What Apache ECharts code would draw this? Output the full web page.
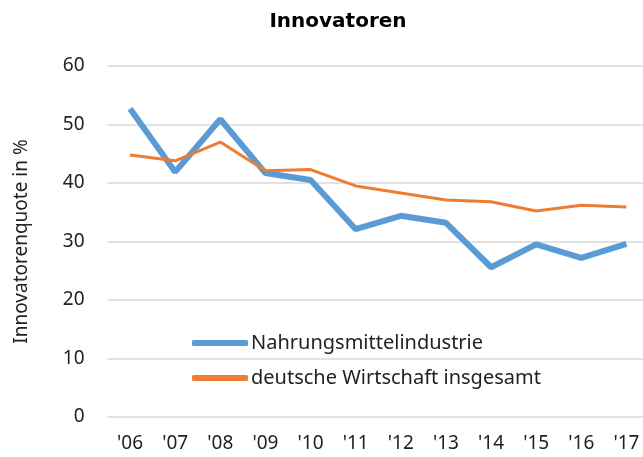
<!DOCTYPE html>
<html>
<head>
<meta charset="utf-8">
<script src="https://cdn.jsdelivr.net/npm/echarts@6/dist/echarts.min.js"></script>
<style>
  html, body { margin: 0; padding: 0; background: #fff; overflow: hidden; }
  #chart { width: 649px; height: 457px; }
</style>
</head>
<body>
<div id="chart"></div>
<script>
// Daten
const years = ["'06", "'07", "'08", "'09", "'10", "'11", "'12", "'13", "'14", "'15", "'16", "'17"];
const nahrung = [52.7, 41.9, 50.9, 41.7, 40.5, 32.1, 34.4, 33.2, 25.6, 29.5, 27.2, 29.6];
const wirtschaft = [44.8, 43.8, 47.0, 42.1, 42.3, 39.5, 38.3, 37.1, 36.8, 35.2, 36.2, 35.9];
const yTicks = [0, 10, 20, 30, 40, 50, 60];

const font = 'Noto Sans, Liberation Sans, sans-serif';
const chart = echarts.init(document.getElementById('chart'));

const option = {
    animation: false,
    title: {
        text: 'Innovatoren',
        left: 333,
        top: 7,
        textAlign: 'center',
        textStyle: { fontFamily: 'DejaVu Sans', fontWeight: 'bold', fontSize: 20, color: '#000' }
    },
    legend: {
        orient: 'vertical',
        left: 187,
        top: 328,
        itemWidth: 56,
        itemHeight: 6,
        itemGap: 15,
        icon: 'roundRect',
        textStyle: { fontFamily: font, fontSize: 20, color: '#222', padding: [0, 0, 0, -2] },
        data: ['Nahrungsmittelindustrie', 'deutsche Wirtschaft insgesamt']
    },
    // rechter Rand liegt etwas ausserhalb des Fensters
    grid: { left: 107.5, right: 0, top: 66, bottom: 40 },
    xAxis: {
        type: 'category',
        data: years,
        boundaryGap: true,
        axisLine: { show: false },
        axisTick: { show: false },
        axisLabel: { fontFamily: font, fontSize: 19, color: '#222', margin: 17 }
    },
    yAxis: {
        type: 'value',
        min: yTicks[0],
        max: yTicks[yTicks.length - 1],
        interval: 10,
        name: 'Innovatorenquote in %',
        nameLocation: 'middle',
        nameGap: 76,
        nameTextStyle: { fontFamily: font, fontSize: 19, color: '#222' },
        axisLine: { show: false },
        axisTick: { show: false },
        axisLabel: { fontFamily: font, fontSize: 19, color: '#222', margin: 23 },
        splitLine: { lineStyle: { color: '#d9d9d9', width: 1.5 } }
    },
    series: [
        {
            name: 'Nahrungsmittelindustrie',
            type: 'line',
            data: nahrung,
            symbol: 'none',
            color: '#5b9bd5',
            lineStyle: { width: 6, color: '#5b9bd5' },
            z: 3
        },
        {
            name: 'deutsche Wirtschaft insgesamt',
            type: 'line',
            data: wirtschaft,
            symbol: 'none',
            color: '#ed7d31',
            lineStyle: { width: 3, color: '#ed7d31' },
            z: 4
        }
    ]
};

chart.setOption(option);
</script>
</body>
</html>
